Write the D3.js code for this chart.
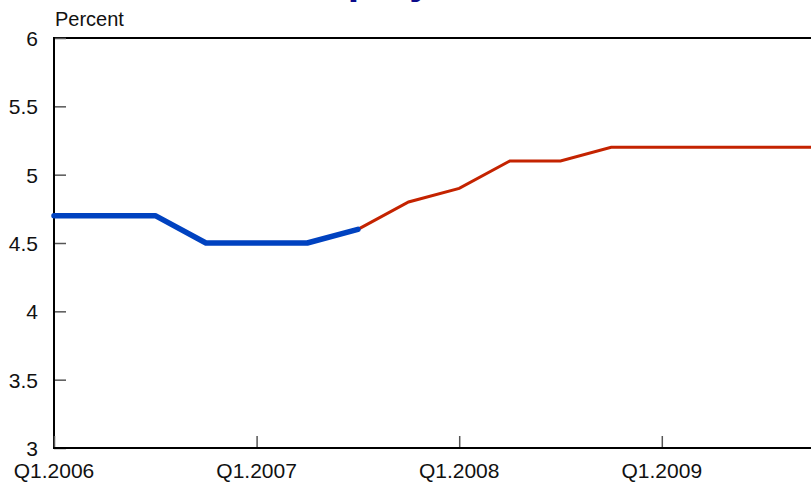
<!DOCTYPE html>
<html>
<head>
<meta charset="utf-8">
<script src="https://cdn.jsdelivr.net/npm/d3@7"></script>
<style>
  body { margin: 0; background: #fff; }
  svg { display: block; font-family: "Liberation Sans", Arial, sans-serif; }
</style>
</head>
<body>
<div id="chart"></div>
<script>
// quarters Q1.2006 .. Q4.2009 (index 0..15)
const quarters = ["Q1.2006","Q2.2006","Q3.2006","Q4.2006","Q1.2007","Q2.2007","Q3.2007","Q4.2007",
  "Q1.2008","Q2.2008","Q3.2008","Q4.2008","Q1.2009","Q2.2009","Q3.2009","Q4.2009"];
// actual (blue)
const actual = [4.7, 4.7, 4.7, 4.5, 4.5, 4.5, 4.6];
// projection (red), starts at Q3.2007
const projected = [4.6, 4.8, 4.9, 5.1, 5.1, 5.2, 5.2, 5.2, 5.2, 5.2];
const projStart = 6;
const yTicks = [3, 3.5, 4, 4.5, 5, 5.5, 6];
const xTickLabels = ["Q1.2006", "Q1.2007", "Q1.2008", "Q1.2009"];

(function() {
  const width = 811, height = 485;
  const margin = {top: 38, left: 54, bottom: 37};

  const svg = d3.select("#chart").append("svg")
    .attr("width", width).attr("height", height);

  // title, mostly above the frame
  svg.append("text")
    .attr("x", 432).attr("y", -6)
    .attr("text-anchor", "middle")
    .attr("font-size", 41).attr("font-weight", "bold")
    .attr("fill", "#0b0b8a")
    .text("Unemployment Rate");

  const x = d3.scaleLinear()
    .domain([0, 15])
    .range([margin.left, margin.left + 15 * 50.65]);
  const y = d3.scaleLinear()
    .domain([3, 6])
    .range([height - margin.bottom, margin.top]);

  // top border
  svg.append("line")
    .attr("x1", margin.left).attr("x2", width)
    .attr("y1", y(6)).attr("y2", y(6))
    .attr("stroke", "#000").attr("stroke-width", 2);

  // y axis
  const yAxis = svg.append("g")
    .attr("transform", "translate(" + margin.left + ",0)")
    .call(d3.axisRight(y).tickValues(yTicks).tickSize(12).tickFormat(""));
  yAxis.select(".domain").remove();
  yAxis.selectAll(".tick line").attr("stroke", "#555").attr("stroke-width", 1.5);
  svg.append("line")
    .attr("x1", margin.left).attr("x2", margin.left)
    .attr("y1", y(6) - 1).attr("y2", y(3) + 1)
    .attr("stroke", "#000").attr("stroke-width", 2);

  svg.selectAll(".ylab")
    .data(yTicks)
    .enter().append("text")
    .attr("class", "ylab")
    .attr("x", 38).attr("y", d => y(d) + 8)
    .attr("text-anchor", "end")
    .attr("font-size", 21)
    .attr("fill", "#111")
    .text(d => d);

  svg.append("text")
    .attr("x", 55).attr("y", 26)
    .attr("font-size", 20)
    .attr("fill", "#111")
    .text("Percent");

  // x axis
  const xTickIdx = xTickLabels.map(l => quarters.indexOf(l));
  const xAxis = svg.append("g")
    .attr("transform", "translate(0," + y(3) + ")")
    .call(d3.axisTop(x).tickValues(xTickIdx).tickSize(12).tickFormat(""));
  xAxis.select(".domain").remove();
  xAxis.selectAll(".tick line").attr("stroke", "#555").attr("stroke-width", 1.5);
  svg.append("line")
    .attr("x1", margin.left - 1).attr("x2", width)
    .attr("y1", y(3)).attr("y2", y(3))
    .attr("stroke", "#000").attr("stroke-width", 2);

  svg.selectAll(".xlab")
    .data(xTickIdx)
    .enter().append("text")
    .attr("class", "xlab")
    .attr("x", d => x(d)).attr("y", 478)
    .attr("text-anchor", "middle")
    .attr("font-size", 21)
    .attr("fill", "#111")
    .text(d => quarters[d]);

  const line = d3.line()
    .x(d => x(d.i))
    .y(d => y(d.v));

  svg.append("path")
    .datum(projected.map((v, i) => ({i: i + projStart, v: v})))
    .attr("d", line)
    .attr("fill", "none")
    .attr("stroke", "#c42300")
    .attr("stroke-width", 3);

  svg.append("path")
    .datum(actual.map((v, i) => ({i: i, v: v})))
    .attr("d", line)
    .attr("fill", "none")
    .attr("stroke", "#0042c0")
    .attr("stroke-width", 5.5)
    .attr("stroke-linecap", "round")
    .attr("stroke-linejoin", "round");
})();
</script>
</body>
</html>
